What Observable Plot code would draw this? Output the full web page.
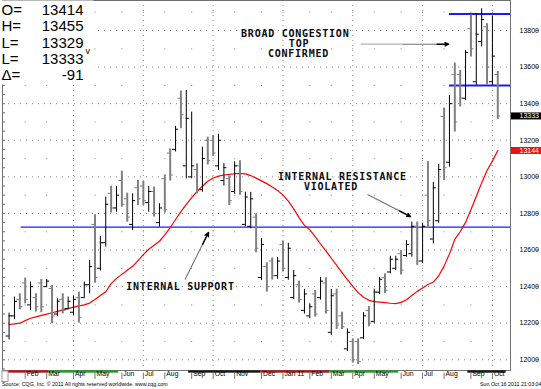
<!DOCTYPE html>
<html><head><meta charset="utf-8">
<script src="https://cdn.jsdelivr.net/npm/d3@7"></script>
<script src="https://cdn.jsdelivr.net/npm/@observablehq/plot@0.6"></script>
<style>
html,body{margin:0;padding:0;background:#fff;}
svg{display:block;}
</style></head><body><div id="chart"></div>
<script>
// Weekly bars, first week starting 2010-01-11
const highs = [12255,12343,12361,12447,12425,12361,12439,12439,12406,12334,
12361,12343,12348,12370,12425,12543,12793,12674,12889,12949,
12947,13031,12911,12907,12980,12975,12947,12944,12853,13011,
13153,13276,13469,13472,13354,13071,13162,13217,13225,13233,
13072,13005,13082,13088,12916,12915,12798,12662,12530,12557,
12560,12648,12637,12488,12430,12385,12306,12379,12450,12448,
12385,12386,12260,12169,12115,12115,12258,12291,12386,12450,
12470,12566,12566,12597,12652,12753,12753,12747,13083,12970,
13068,13376,13445,13622,13582,13691,13885,13893,13919,13837,
13877,13576];
const lows = [12109,12219,12273,12306,12270,12261,12257,12394,12197,12237,
12251,12273,12242,12200,12334,12361,12419,12485,12616,12802,
12807,12834,12752,12707,12844,12844,12807,12780,12725,12802,
12977,13136,13263,12989,12989,12907,12916,13065,13112,13035,
12950,12843,12905,12900,12727,12716,12585,12433,12370,12436,
12440,12480,12435,12328,12310,12250,12224,12233,12326,12250,
12133,12166,12165,12045,11982,11974,12112,12180,12197,12356,
12362,12470,12488,12463,12561,12561,12516,12525,12725,12634,
12747,12980,13053,13245,13382,13416,13655,13500,13710,13500,
13500,13314];
const opens = [12130,12240,12330,12420,12300,12340,12420,12400,12390,12250,
12330,12280,12260,12340,12340,12410,12740,12500,12640,12910,
12830,12980,12880,12740,12940,12950,12860,12920,12750,12990,
13130,13150,13430,13060,13000,13040,12930,13200,13200,13060,
12980,12990,12920,13060,12740,12730,12780,12450,12510,12540,
12460,12630,12450,12340,12410,12270,12240,12360,12340,12420,
12150,12360,12240,12060,12100,12100,12120,12270,12210,12370,
12450,12480,12500,12580,12570,12580,12730,12540,12900,12660,
12760,13330,13080,13560,13560,13430,13810,13520,13740,13820,
13520,13560];
const closes = [12240,12320,12290,12330,12400,12290,12290,12430,12240,12320,
12270,12320,12330,12230,12410,12510,12450,12640,12850,12830,
12900,12850,12780,12870,12880,12870,12920,12800,12830,12820,
13010,13260,13340,13320,13060,12930,13100,13090,13130,13200,
13050,12870,13060,12920,12890,12880,12610,12630,12400,12460,
12540,12500,12610,12460,12330,12360,12290,12250,12430,12270,
12350,12190,12180,12150,12000,11990,12240,12200,12370,12440,
12380,12550,12550,12490,12630,12730,12540,12730,12760,12940,
13040,13050,13400,13300,13430,13680,13700,13780,13860,13600,
13660,13333];
const movingAverage = [12193,12196,12200,12214,12227,12235,12243,12250,12257,12265,
12273,12280,12288,12295,12300,12310,12330,12352,12372,12416,
12445,12467,12489,12511,12542,12575,12604,12626,12648,12683,
12723,12767,12810,12850,12887,12920,12949,12976,12994,13004,
13010,13014,13017,13019,13016,13007,12993,12978,12963,12945,
12926,12900,12867,12825,12777,12734,12710,12673,12633,12595,
12555,12516,12477,12438,12401,12367,12342,12325,12318,12315,
12312,12309,12307,12314,12328,12352,12374,12393,12412,12425,
12459,12512,12579,12658,12700,12751,12820,12894,12967,13035,
13086,13144];
const monthLabels = ["Feb","Mar","Apr","May","Jun","Jul","Aug","Sep","Oct","Nov","Dec","Jan 11","Feb","Mar","Apr","May","Jun","Jul","Aug","Sep","Oct"];
const priceTicks = [12000,12200,12400,12600,12800,13000,13200,13400,13600,13800];
const minorLevels = [12100,12300,12500,12700,12900,13100,13300,13500,13700,13900];
const edgeTicks = [11950,12000,12050,12100,12150,12200,12250,12300,12350,12400,12450,12500,12550,12600,12650,12700,12750,12800,12850,12900,12950,13000,13050,13100,13150,13200,13250,13300,13350,13400,13450,13500,13550,13600,13650,13700,13750,13800,13850,13900,13950];
const quoteLabels = "O=\nH=\nL=\nL=\nΔ=";
const quoteValues = "13414\n13455\n13329\n13333\n-91";
const levelPrices = [12725, 13890, 13500];
const levelStarts = ["2010-01-26T19:00Z", "2011-08-08T02:00Z", "2011-08-08T02:00Z"];
const levelWidths = [1.4, 2, 2];
const contractBands = [
  {start: "2010-01-10", end: "2010-03-04", color: "#b01818"},
  {start: "2010-03-04", end: "2010-06-03", color: "#2a9a2a"},
  {start: "2010-09-02", end: "2010-12-05", color: "#1a1a1a"},
  {start: "2010-12-05", end: "2011-03-05", color: "#b01818"},
  {start: "2011-03-05", end: "2011-06-03", color: "#2a9a2a"},
  {start: "2011-09-01", end: "2011-10-21", color: "#1a1a1a"}
];
const notesCentered = [
  {text: "BROAD CONGESTION", date: "2011-01-19T00:00Z", price: 13782},
  {text: "TOP", date: "2011-01-23T22:00Z", price: 13729},
  {text: "CONFIRMED", date: "2011-01-23T05:00Z", price: 13674},
  {text: "INTERNAL SUPPORT", date: "2010-08-22T10:00Z", price: 12401}
];
const notesLeft = [
  {text: "INTERNAL RESISTANCE", date: "2010-12-27T14:00Z", price: 13002},
  {text: "VIOLATED", date: "2011-01-30T07:00Z", price: 12948}
];
const arrowDefs = [
  {x1: "2011-06-07T20:00Z", y1: 13725, x2: "2011-08-06T20:00Z", y2: 13725},
  {x1: "2010-08-28T07:00Z", y1: 12439, x2: "2010-09-27T22:00Z", y2: 12696},
  {x1: "2011-04-23T05:00Z", y1: 12904, x2: "2011-06-18T05:00Z", y2: 12783}
];
const lightShaft = [{x1: "2011-04-14T00:00Z", y1: 13725, x2: "2011-06-07T20:00Z", y2: 13725}];
const sourceText = "Source: CQG, Inc. © 2011 All rights reserved worldwide. www.cqg.com";
const stampText = "Sun Oct 16 2011 21:03:04";

// ---- derived structures ----
const weeks = highs.map((_, i) => new Date(Date.UTC(2010, 0, 11 + 7 * i)));
const bars = weeks.map((d, i) => ({date: d, open: opens[i], high: highs[i], low: lows[i], close: closes[i], up: closes[i] >= opens[i]}));
const maSeries = weeks.map((d, i) => ({date: d, value: movingAverage[i]}));
const monthTicks = [];
weeks.forEach((d, i) => { if (i > 0 && d.getUTCMonth() !== weeks[i - 1].getUTCMonth()) monthTicks.push(d); });
const monthData = monthTicks.map((d, i) => ({date: d, label: monthLabels[i]}));
const quarterLines = monthTicks.filter(d => d.getUTCMonth() % 3 === 0);
const minorDots = [];
monthTicks.forEach(d => minorLevels.forEach(p => minorDots.push({date: d, price: p})));
const xStart = new Date("2010-01-02T10:00Z"), xEnd = new Date("2011-10-26T14:00Z");
const levels = levelPrices.map((p, i) => ({price: p, start: new Date(levelStarts[i]), width: levelWidths[i]}));
const bandsData = contractBands.map(b => ({start: new Date(b.start), end: new Date(b.end), color: b.color}));
const parseNote = n => ({...n, date: new Date(n.date)});
const toSeg = a => ({x1: new Date(a.x1), y1: a.y1, x2: new Date(a.x2), y2: a.y2});
const shafts = arrowDefs.map(toSeg);
const heads = shafts.map(s => ({x1: new Date(+s.x1 + 0.75 * (s.x2 - s.x1)), y1: s.y1 + 0.75 * (s.y2 - s.y1), x2: s.x2, y2: s.y2}));
const lastClose = closes[closes.length - 1];
const lastMA = movingAverage[movingAverage.length - 1];
const barColor = d => d.up ? "#000000" : "#808080";
const mono = "'DejaVu Sans Mono', 'Liberation Mono', monospace";
const noteTexts = new Set([...notesCentered, ...notesLeft].map(n => n.text));

const chart = Plot.plot({
  width: 541, height: 389,
  marginLeft: 2, marginRight: 31, marginTop: 0, marginBottom: 19,
  x: {type: "utc", domain: [xStart, xEnd], axis: null},
  y: {domain: [11941.5, 13964], axis: null},
  style: {fontFamily: "'Liberation Sans', Arial, sans-serif", background: "#fff", color: "#000"},
  marks: [
    Plot.ruleY(priceTicks, {stroke: "#8a8a8a", strokeDasharray: "1,5"}),
    Plot.ruleX(quarterLines, {stroke: "#8a8a8a", strokeDasharray: "1,4"}),
    Plot.dot(minorDots, {x: "date", y: "price", r: 0.6, fill: "#8a8a8a", stroke: null}),
    Plot.frame({stroke: "#707070"}),
    Plot.ruleY(edgeTicks, {stroke: "#707070", insetRight: 505}),
    Plot.frame({fill: "#fff", stroke: "none", insetLeft: -2, insetRight: 417, insetBottom: 286}),
    Plot.ruleY(levels, {y: "price", x1: "start", x2: () => xEnd, stroke: "#1a1aff", strokeWidth: "width"}),
    Plot.line(maSeries, {x: "date", y: "value", stroke: "#ff0000", strokeWidth: 1.2}),
    Plot.ruleX(bars, {x: "date", y1: "low", y2: "high", stroke: barColor, strokeWidth: d => d.up ? 1 : 2}),
    Plot.ruleY(bars, {y: "open", x1: "date", x2: "date", insetLeft: -3, insetRight: 0, stroke: barColor}),
    Plot.ruleY(bars, {y: "close", x1: "date", x2: "date", insetLeft: 0, insetRight: -3, stroke: barColor}),
    Plot.link(lightShaft.map(toSeg), {x1: "x1", y1: "y1", x2: "x2", y2: "y2", stroke: "#b4b4b4", strokeWidth: 1.2}),
    Plot.link(shafts, {x1: "x1", y1: "y1", x2: "x2", y2: "y2", stroke: "#707070", strokeWidth: 1.1}),
    Plot.arrow(heads, {x1: "x1", y1: "y1", x2: "x2", y2: "y2", stroke: "#000", strokeWidth: 1.4, headLength: 6, headAngle: 50}),
    Plot.text(notesCentered.map(parseNote), {x: "date", y: "price", text: "text", fontFamily: mono, fontWeight: "bold", fontSize: 10, fill: "#0a0a14"}),
    Plot.text(notesLeft.map(parseNote), {x: "date", y: "price", text: "text", textAnchor: "start", fontFamily: mono, fontWeight: "bold", fontSize: 10, fill: "#0a0a14"}),
    Plot.text([quoteLabels], {frameAnchor: "top-left", textAnchor: "start", lineAnchor: "top", lineHeight: 1.093, dx: -1, dy: 2.6, fontSize: 15}),
    Plot.text([quoteValues], {frameAnchor: "top-left", textAnchor: "end", lineAnchor: "top", lineHeight: 1.093, dx: 81, dy: 2.6, fontSize: 15}),
    Plot.text(["v"], {frameAnchor: "top-left", textAnchor: "start", lineAnchor: "top", dx: 83, dy: 47.5, fontSize: 9}),
    // right axis
    Plot.text(priceTicks, {y: d => d, text: d => String(d), frameAnchor: "right", textAnchor: "start", dx: 9, fontSize: 7}),
    Plot.ruleY(priceTicks, {insetLeft: 534, insetRight: -29, stroke: "#555"}),
    Plot.ruleY([lastClose], {insetLeft: 509, insetRight: -31, stroke: "#000", strokeWidth: 7}),
    Plot.text([lastClose], {y: d => d, text: d => String(d), frameAnchor: "right", textAnchor: "start", dx: 9, fontSize: 7, fill: "#fff"}),
    Plot.ruleY([lastMA], {insetLeft: 509, insetRight: -31, stroke: "#ee1111", strokeWidth: 7}),
    Plot.text([lastMA], {y: d => d, text: d => String(d), frameAnchor: "right", textAnchor: "start", dx: 9, fontSize: 7, fill: "#fff"}),
    // bottom time strip
    Plot.rect(bandsData, {x1: "start", x2: "end", fill: "color", insetTop: 370.3, insetBottom: -2.7}),
    Plot.ruleX(monthData, {x: "date", insetTop: 372.5, insetBottom: -9, stroke: "#777"}),
    Plot.text(monthData, {x: "date", text: "label", frameAnchor: "bottom", textAnchor: "start", dx: 1.5, dy: 5.8, fontSize: 6.8}),
    Plot.frame({fill: "#fff", stroke: "#999", insetLeft: -0.5, insetRight: 502.5, insetTop: 370.5, insetBottom: -11}),
    Plot.text([sourceText], {frameAnchor: "bottom-left", textAnchor: "start", dx: -0.5, dy: 15.5, fontSize: 5.3}),
    Plot.text([stampText], {frameAnchor: "bottom-right", textAnchor: "end", dx: 31, dy: 15.5, fontSize: 5.3})
  ]
});
chart.querySelectorAll("text").forEach(t => {
  if (noteTexts.has(t.textContent)) { t.setAttribute("letter-spacing", "0.75"); t.style.letterSpacing = "0.75px"; }
});
document.getElementById("chart").appendChild(chart);
</script>
</body></html>
